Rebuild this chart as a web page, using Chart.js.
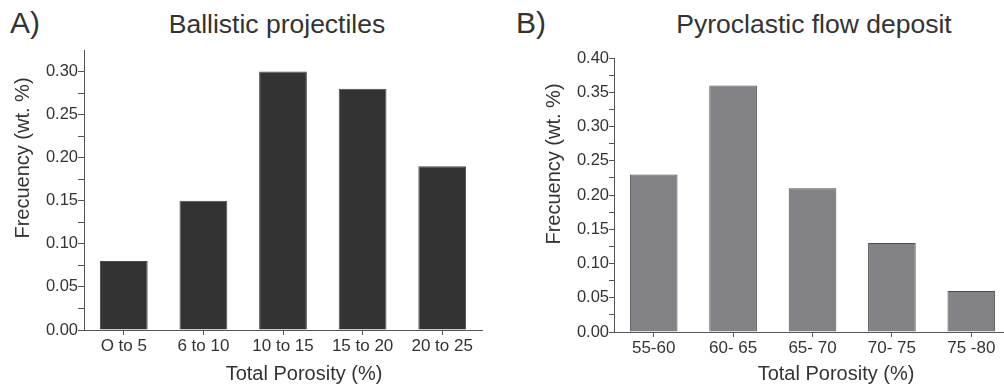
<!DOCTYPE html>
<html>
<head>
<meta charset="utf-8">
<script src="https://cdn.jsdelivr.net/npm/chart.js@4"></script>
<style>
  html, body { margin: 0; padding: 0; background: #fff; }
  body { width: 1004px; height: 385px; overflow: hidden; position: relative; font-family: "Liberation Sans", Arial, sans-serif; color: #333; }
  .box { position: absolute; top: 0; height: 385px; }
  .lbl { position: absolute; font-size: 30px; line-height: 34px; color: #333; }
  .ttl { position: absolute; font-size: 26.5px; line-height: 30px; color: #333; text-align: center; width: 400px; }
  .axt { position: absolute; font-size: 20px; line-height: 24px; color: #333; text-align: center; width: 240px; white-space: nowrap; }
  .rot { transform: rotate(-90deg); }
</style>
</head>
<body>
<div class="lbl" style="left:10px; top:6px;">A)</div>
<div class="ttl" style="left:77px; top:9px;">Ballistic projectiles</div>
<div class="lbl" style="left:516px; top:6px;">B)</div>
<div class="ttl" style="left:614px; top:9px;">Pyroclastic flow deposit</div>

<div class="box" style="left:0; width:502px;"><canvas id="chartA"></canvas></div>
<div class="box" style="left:502px; width:520px;"><canvas id="chartB"></canvas></div>

<div class="axt" id="xtA" style="left:184px; top:361px;"></div>
<div class="axt" id="xtB" style="left:716px; top:361px;"></div>
<div class="axt rot" id="ytA" style="left:-98px; top:146px;"></div>
<div class="axt rot" id="ytB" style="left:433px; top:152px;"></div>

<script>
// data
var ballisticLabels = ["O to 5", "6 to 10", "10 to 15", "15 to 20", "20 to 25"];
var ballisticValues = [0.08, 0.15, 0.30, 0.28, 0.19];

var pyroLabels = ["55-60", "60- 65", "65- 70", "70- 75", "75 -80"];
var pyroValues = [0.23, 0.36, 0.21, 0.13, 0.06];

var xTitle = "Total Porosity (%)";
var yTitle = "Frecuency (wt. %)";

var textColor = "#333";
var axisColor = "#555";
var fontName = "'Liberation Sans', Arial, sans-serif";

document.getElementById('xtA').textContent = xTitle;
document.getElementById('xtB').textContent = xTitle;
document.getElementById('ytA').textContent = yTitle;
document.getElementById('ytB').textContent = yTitle;

function isMajor(v) {
    return Math.abs(Math.round(v * 1000) % 50) < 1;
}

function makeChart(id, labels, values, opts) {
    var ctx = document.getElementById(id).getContext('2d');
    return new Chart(ctx, {
        type: 'bar',
        data: {
            labels: labels,
            datasets: [{
                data: values,
                backgroundColor: opts.fill,
                borderColor: opts.edge,
                borderWidth: 1,
                barPercentage: 0.6,
                categoryPercentage: 1.0
            }]
        },
        options: {
            responsive: true,
            maintainAspectRatio: false,
            animation: false,
            layout: { padding: opts.padding },
            plugins: {
                legend: { display: false },
                tooltip: { enabled: false }
            },
            scales: {
                x: {
                    grid: {
                        offset: false,
                        drawOnChartArea: false,
                        tickLength: 5,
                        tickColor: axisColor
                    },
                    border: { color: axisColor, width: 1 },
                    ticks: {
                        color: textColor,
                        padding: 1,
                        maxRotation: 0,
                        font: { family: fontName, size: 17 }
                    },
                    afterFit: function (scale) { scale.height = opts.xHeight; }
                },
                y: {
                    min: 0,
                    max: opts.yMax,
                    grid: {
                        drawOnChartArea: false,
                        tickLength: opts.tickLen,
                        tickColor: function (c) {
                            if (c.tick && c.tick.value > opts.yMax - 0.001 && !isMajor(c.tick.value)) return 'rgba(0,0,0,0)';
                            return axisColor;
                        }
                    },
                    border: { color: axisColor, width: 1 },
                    ticks: {
                        stepSize: 0.025,
                        autoSkip: false,
                        color: textColor,
                        padding: 0,
                        font: { family: fontName, size: 16.5 },
                        callback: function (v) {
                            return isMajor(v) ? v.toFixed(2) : '';
                        }
                    },
                    afterFit: function (scale) { scale.width = opts.yWidth; }
                }
            }
        }
    });
}

makeChart('chartA', ballisticLabels, ballisticValues, {
    fill: '#333333',
    edge: '#4a4a4a',
    yMax: 0.325,
    tickLen: 6,
    yWidth: 84,
    xHeight: 55,
    padding: { left: 0, right: 20, top: 50, bottom: 0 }
});

makeChart('chartB', pyroLabels, pyroValues, {
    fill: '#818186',
    edge: '#4d4d4d',
    yMax: 0.40,
    tickLen: 5,
    yWidth: 112,
    xHeight: 53,
    padding: { left: 0, right: 11, top: 58, bottom: 0 }
});
</script>
</body>
</html>
